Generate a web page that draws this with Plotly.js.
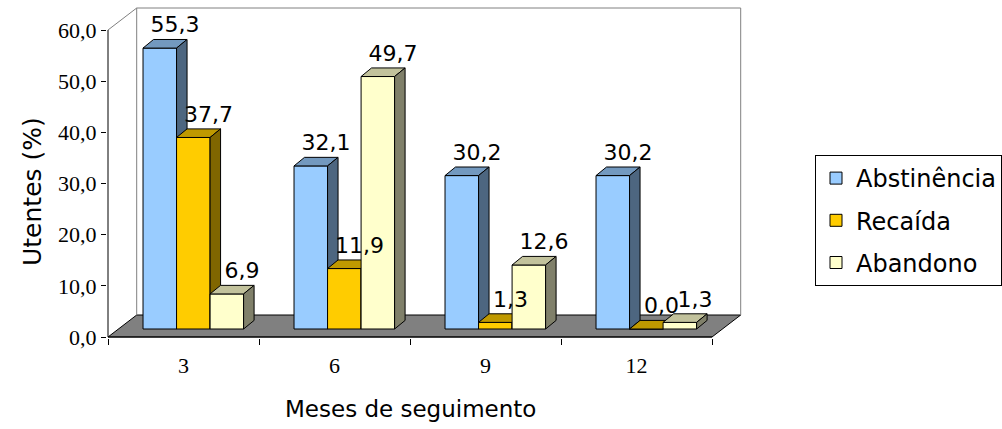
<!DOCTYPE html>
<html>
<head>
<meta charset="utf-8">
<script src="https://cdn.plot.ly/plotly-3.0.1.min.js"></script>
<style>html,body{margin:0;padding:0;background:#fff;}#chart{width:1002px;height:429px;}</style>
</head>
<body>
<div id="chart"></div>
<script>
// ---- data ----
const categories = ['3', '6', '9', '12'];
const abstinencia = [55.3, 32.1, 30.2, 30.2];
const recaida = [37.7, 11.9, 1.3, 0.0];
const abandono = [6.9, 49.7, 12.6, 1.3];
const seriesNames = ['Abstinência', 'Recaída', 'Abandono'];
const yTickVals = [0, 10, 20, 30, 40, 50, 60];
const xTitle = 'Meses de seguimento';
const yTitle = 'Utentes (%)';

// ---- styles / geometry ----
const seriesValues = [abstinencia, recaida, abandono];
const frontColors = ['#99CCFF', '#FFCC00', '#FFFFCC'];
const topColors = ['#7399BF', '#BF9900', '#C2C29C'];
const sideColors = ['#4D6680', '#806600', '#80806A'];
const FONT = 'DejaVu Sans, Verdana, sans-serif';
const SERIF = 'Liberation Serif, Times New Roman, serif';

const W = 1002, H = 429;
const M = {l: 107, r: 258, t: 5, b: 91, autoexpand: false};
const plotW = W - M.l - M.r, plotH = H - M.t - M.b;
const pxPerCat = 151;           // px per category on front plane
const pxPerUnit = 307 / 60;     // px per % on front plane
const xr0 = -0.5 - 1 / pxPerCat;
const xRange = [xr0, xr0 + plotW / pxPerCat];
const yr0 = -1 / pxPerUnit;
const yRange = [yr0, yr0 + plotH / pxPerUnit];

// bar plane (slightly deeper) axes
const barShiftX = 0.065;
const barPxPerUnit = 5.08;
const barBasePx = 9;
const xbRange = [xRange[0] - barShiftX, xRange[1] - barShiftX];
const ybRange = [-barBasePx / barPxPerUnit, (plotH - barBasePx) / barPxPerUnit];

const barW = 0.222;
const depthX = 0.0695, depthY = 1.69;
const floorDX = 0.19, floorDY = 4.3;
const nCat = categories.length;
const catIdx = categories.map((c, i) => i);

const fmt = v => v.toFixed(1).replace('.', ',');

const traces = [];
const layout = {
  width: W, height: H,
  margin: M,
  paper_bgcolor: '#fff', plot_bgcolor: 'rgba(0,0,0,0)',
  separators: ',.',
  showlegend: true,
  hovermode: false,
  xaxis: {
    range: xRange, showgrid: false, zeroline: false, showline: false,
    tickmode: 'array', tickvals: catIdx, ticktext: categories, ticks: '',
    ticklabelstandoff: 12, automargin: false,
    tickfont: {family: SERIF, size: 22, color: '#000'},
    minor: {tickmode: 'linear', tick0: -0.5, dtick: 1, ticks: 'outside', ticklen: 6, tickcolor: '#000', tickwidth: 1, showgrid: false},
    fixedrange: true
  },
  yaxis: {
    range: yRange, showgrid: false, zeroline: false, showline: false,
    tickmode: 'array', tickvals: yTickVals, tickformat: '.1f', automargin: false,
    ticks: 'outside', ticklen: 5, tickcolor: '#000',
    tickfont: {family: SERIF, size: 22, color: '#000'},
    fixedrange: true
  },
  legend: {
    x: (815 - M.l) / plotW, y: (338 - 155) / plotH, xanchor: 'left', yanchor: 'top',
    bgcolor: '#fff', bordercolor: '#000', borderwidth: 1,
    font: {family: FONT, size: 24, color: '#000'},
    tracegroupgap: 8
  },
  annotations: [{
    text: xTitle, xref: 'paper', yref: 'paper',
    x: (410 - M.l) / plotW, y: (338 - 409) / plotH,
    xanchor: 'center', yanchor: 'middle', showarrow: false,
    font: {family: FONT, size: 23, color: '#000'}
  }, {
    text: yTitle, xref: 'paper', yref: 'paper', textangle: -90,
    x: (32 - M.l) / plotW, y: (338 - 192) / plotH,
    xanchor: 'center', yanchor: 'middle', showarrow: false,
    font: {family: FONT, size: 25, color: '#000'}
  }],
  shapes: []
};

// overlay axes for each series' bars
seriesValues.forEach((vals, j) => {
  const k = j + 2;
  layout['xaxis' + k] = {overlaying: 'x', anchor: 'y' + k, range: xbRange, visible: false, fixedrange: true};
  layout['yaxis' + k] = {overlaying: 'y', anchor: 'x' + k, range: ybRange, visible: false, fixedrange: true};
});

// floor and walls (main axes)
const fx0 = -0.5, fx1 = nCat - 0.5;
layout.shapes.push({
  type: 'path', layer: 'below', xref: 'x', yref: 'y',
  path: `M${fx0},0 L${fx0 + floorDX},${floorDY} L${fx1 + floorDX},${floorDY} L${fx1},0 Z`,
  fillcolor: '#808080', line: {color: '#000', width: 1}
});
const wallTop = yTickVals[yTickVals.length - 1] + floorDY;
const wallLines = [
  [fx0 + floorDX, floorDY, fx0 + floorDX, wallTop],
  [fx0 + floorDX, wallTop, fx1 + floorDX, wallTop],
  [fx1 + floorDX, wallTop, fx1 + floorDX, floorDY],
  [fx0, yTickVals[yTickVals.length - 1], fx0 + floorDX, wallTop]
];
wallLines.forEach(l => layout.shapes.push({
  type: 'line', layer: 'below', xref: 'x', yref: 'y',
  x0: l[0], y0: l[1], x1: l[2], y1: l[3], line: {color: '#808080', width: 1}
}));
// axis lines
layout.shapes.push({type: 'line', xref: 'x', yref: 'y', x0: fx0, y0: 0, x1: fx0, y1: yTickVals[yTickVals.length - 1], line: {color: '#000', width: 1}});
layout.shapes.push({type: 'line', xref: 'x', yref: 'y', x0: fx0, y0: 0, x1: fx1, y1: 0, line: {color: '#000', width: 1}});

// bars
const labelX = [], labelY = [], labelT = [];
seriesValues.forEach((vals, j) => {
  const k = j + 2;
  const off = -1.5 * barW + j * barW;
  traces.push({
    type: 'bar', x: catIdx, y: vals, width: barW, offset: off,
    xaxis: 'x' + k, yaxis: 'y' + k,
    name: seriesNames[j], legendgroup: 'g' + j,
    marker: {color: frontColors[j], line: {color: '#000', width: 1}},
    hoverinfo: 'skip'
  });
  const tx = [], ty = [], sx = [], sy = [];
  vals.forEach((v, i) => {
    const xl = i + off, xr = xl + barW;
    tx.push(xl, xl + depthX, xr + depthX, xr, xl, null);
    ty.push(v, v + depthY, v + depthY, v, v, null);
    sx.push(xr, xr + depthX, xr + depthX, xr, xr, null);
    sy.push(0, depthY, v + depthY, v, 0, null);
    labelX.push(xr - 0.01);
    labelY.push(v + depthY + 0.3);
    labelT.push(fmt(v));
  });
  traces.push({
    type: 'scatter', mode: 'lines', x: tx, y: ty, fill: 'toself', fillcolor: topColors[j],
    line: {color: '#000', width: 1}, xaxis: 'x' + k, yaxis: 'y' + k,
    showlegend: false, legendgroup: 'g' + j, hoverinfo: 'skip', cliponaxis: false
  });
  traces.push({
    type: 'scatter', mode: 'lines', x: sx, y: sy, fill: 'toself', fillcolor: sideColors[j],
    line: {color: '#000', width: 1}, xaxis: 'x' + k, yaxis: 'y' + k,
    showlegend: false, legendgroup: 'g' + j, hoverinfo: 'skip', cliponaxis: false
  });
});
traces.push({
  type: 'scatter', mode: 'text', x: labelX, y: labelY, text: labelT,
  textposition: 'top center', textfont: {family: FONT, size: 22, color: '#000'},
  xaxis: 'x4', yaxis: 'y4', showlegend: false, hoverinfo: 'skip', cliponaxis: false
});

Plotly.newPlot('chart', traces, layout, {staticPlot: true, displayModeBar: false});
</script>
</body>
</html>
